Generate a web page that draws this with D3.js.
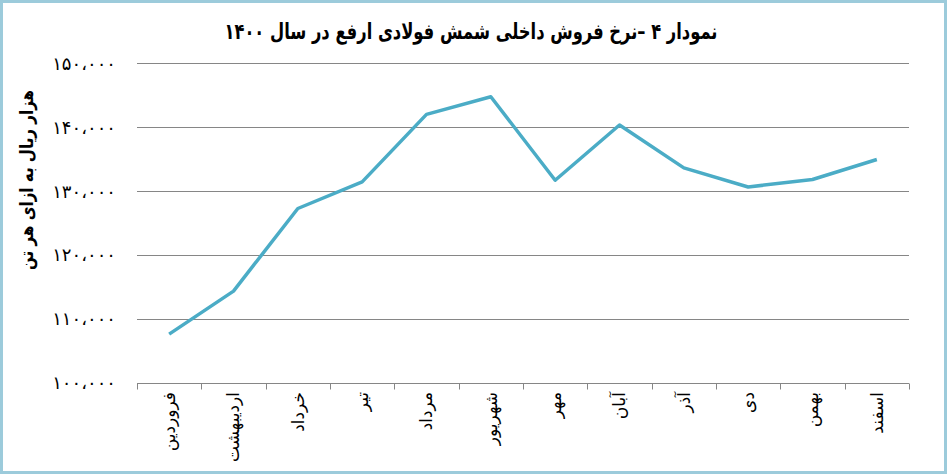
<!DOCTYPE html>
<html lang="fa">
<head>
<meta charset="utf-8">
<script src="https://cdn.jsdelivr.net/npm/d3@7.9.0/dist/d3.min.js"></script>
<style>
  html, body { margin: 0; padding: 0; background: #fff; }
  svg { display: block; font-family: "DejaVu Sans", sans-serif; }
</style>
</head>
<body>
<svg id="chart" width="947" height="474"></svg>
<script>
// months of 1400
const months = ['فروردین', 'اردیبهشت', 'خرداد', 'تیر', 'مرداد', 'شهریور',
  'مهر', 'آبان', 'آذر', 'دی', 'بهمن', 'اسفند'];

// price (thousand rials per tonne)
const prices = [107650, 114380, 127300, 131460, 142030, 144790,
  131720, 140360, 133650, 130670, 131830, 134960];

const yTicks = [100000, 110000, 120000, 130000, 140000, 150000];

const title = 'نمودار ۴ –نرخ فروش داخلی شمش فولادی ارفع در سال ۱۴۰۰';
const yTitle = 'هزار ریال به ازای هر تن';

const width = 947, height = 474;
const plot = { left: 137, right: 909, top: 63.4, bottom: 383 };

const svg = d3.select('#chart');

// outer frame
svg.append('rect')
  .attr('x', 1.5).attr('y', 1.5)
  .attr('width', width - 3).attr('height', height - 3)
  .attr('fill', '#fff')
  .attr('stroke', '#9ccbdb')
  .attr('stroke-width', 3);

const x = d3.scaleBand().domain(months).range([plot.left, plot.right]).padding(0);
const y = d3.scaleLinear().domain([100000, 150000]).range([plot.bottom, plot.top]);

// persian digits + arabic comma
const fa = (n) => d3.format(',')(n)
  .replace(/,/g, '،')
  .replace(/\d/g, (c) => '۰۱۲۳۴۵۶۷۸۹'[+c]);

// gridlines
svg.append('g')
  .selectAll('line')
  .data(yTicks.slice(1))
  .join('line')
  .attr('x1', plot.left).attr('x2', plot.right)
  .attr('y1', d => Math.round(y(d)) + 0.5).attr('y2', d => Math.round(y(d)) + 0.5)
  .attr('stroke', '#868686')
  .attr('stroke-width', 1);

// y labels
svg.append('g')
  .selectAll('text')
  .data(yTicks)
  .join('text')
  .attr('x', 116)
  .attr('y', d => y(d))
  .attr('dy', '0.35em')
  .attr('text-anchor', 'end')
  .attr('font-size', 18)
  .attr('letter-spacing', 2.3)
  .attr('fill', '#000')
  .text(d => fa(d));

// x axis line + boundary ticks
const axisY = Math.round(plot.bottom) + 0.5;
svg.append('line')
  .attr('x1', plot.left).attr('x2', plot.right)
  .attr('y1', axisY).attr('y2', axisY)
  .attr('stroke', '#868686');

const bounds = months.map(m => x(m)).concat([x.range()[1]]);
svg.append('g')
  .selectAll('line')
  .data(bounds)
  .join('line')
  .attr('x1', d => Math.round(d) + 0.5).attr('x2', d => Math.round(d) + 0.5)
  .attr('y1', axisY).attr('y2', axisY + 6)
  .attr('stroke', '#868686');

// x labels, rotated, hanging from the axis
svg.append('g')
  .selectAll('text')
  .data(months)
  .join('text')
  .attr('transform', d => `translate(${x(d) + x.bandwidth() / 2},392) rotate(-90)`)
  .attr('dy', '0.35em')
  .attr('text-anchor', 'end')
  .attr('font-size', 17)
  .attr('fill', '#000')
  .text(d => d);

// line
const line = d3.line()
  .x((d, i) => x(months[i]) + x.bandwidth() / 2)
  .y(d => y(d));

svg.append('path')
  .datum(prices)
  .attr('d', line)
  .attr('fill', 'none')
  .attr('stroke', '#4bacc6')
  .attr('stroke-width', 3.5)
  .attr('stroke-linejoin', 'round');

// title
svg.append('text')
  .attr('x', 471)
  .attr('y', 39)
  .attr('text-anchor', 'middle')
  .attr('font-size', 22)
  .attr('font-weight', 'bold')
  .attr('textLength', 493)
  .attr('lengthAdjust', 'spacingAndGlyphs')
  .attr('fill', '#000')
  .text(title);

// y axis title
svg.append('text')
  .attr('transform', 'translate(27,180) rotate(-90)')
  .attr('dy', '0.35em')
  .attr('text-anchor', 'middle')
  .attr('font-size', 18)
  .attr('font-weight', 'bold')
  .attr('textLength', 180)
  .attr('lengthAdjust', 'spacingAndGlyphs')
  .attr('fill', '#000')
  .text(yTitle);
</script>
</body>
</html>
